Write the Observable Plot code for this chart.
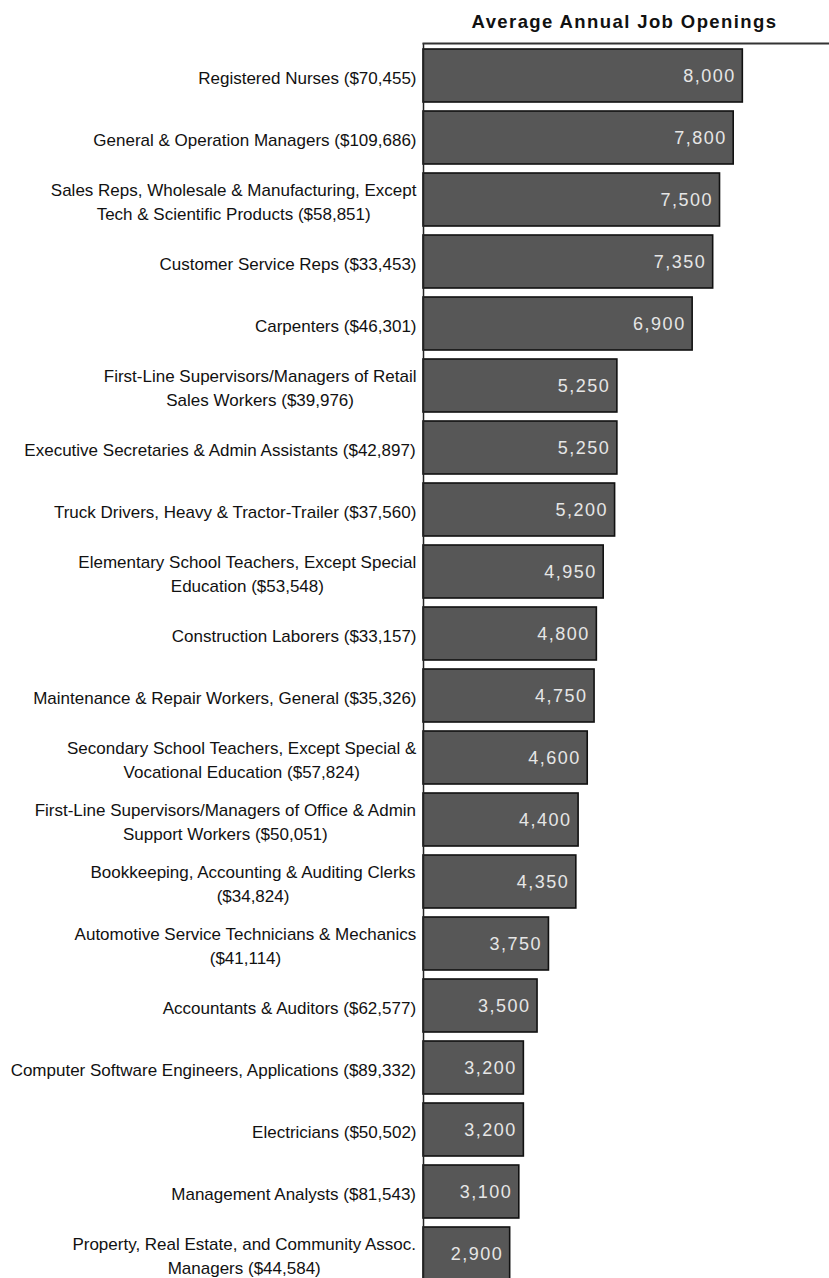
<!DOCTYPE html>
<html><head><meta charset="utf-8">
<script src="https://cdn.jsdelivr.net/npm/d3@7"></script>
<script src="https://cdn.jsdelivr.net/npm/@observablehq/plot@0.6"></script>
<style>
body{margin:0;background:#fff;overflow:hidden;width:829px;height:1278px}
#title{height:42px;box-sizing:border-box;margin-left:420px;width:409px;text-align:center;font:bold 18.5px 'Liberation Sans',Arial,sans-serif;letter-spacing:1.4px;padding-top:12px;color:#111;line-height:20px}
</style></head><body>
<div id="title">Average Annual Job Openings</div>
<div id="chart"></div>
<script>
const labels = [
  "Registered Nurses ($70,455)",
  "General & Operation Managers ($109,686)",
  "Sales Reps, Wholesale & Manufacturing, Except\nTech & Scientific Products ($58,851)",
  "Customer Service Reps ($33,453)",
  "Carpenters ($46,301)",
  "First-Line Supervisors/Managers of Retail\nSales Workers ($39,976)",
  "Executive Secretaries & Admin Assistants ($42,897)",
  "Truck Drivers, Heavy & Tractor-Trailer ($37,560)",
  "Elementary School Teachers, Except Special\nEducation ($53,548)",
  "Construction Laborers ($33,157)",
  "Maintenance & Repair Workers, General ($35,326)",
  "Secondary School Teachers, Except Special &\nVocational Education ($57,824)",
  "First-Line Supervisors/Managers of Office & Admin\nSupport Workers ($50,051)",
  "Bookkeeping, Accounting & Auditing Clerks\n($34,824)",
  "Automotive Service Technicians & Mechanics\n($41,114)",
  "Accountants & Auditors ($62,577)",
  "Computer Software Engineers, Applications ($89,332)",
  "Electricians ($50,502)",
  "Management Analysts ($81,543)",
  "Property, Real Estate, and Community Assoc.\nManagers ($44,584)"
];
const openings = [8000, 7800, 7500, 7350, 6900, 5250, 5250, 5200, 4950, 4800, 4750, 4600, 4400, 4350, 3750, 3500, 3200, 3200, 3100, 2900];
const axisMin = 1000, axisMax = 9900;

const data = labels.map((label, i) => ({label, value: openings[i]}));
const fam = "'Liberation Sans', Arial, sans-serif";
const labelSize = 17;
const ctx = document.createElement("canvas").getContext("2d");
ctx.font = `${labelSize}px 'Liberation Sans'`;
const labelGap = 7;
const labelMarks = data.map(d => {
  const w = d3.max(d.label.split("\n"), s => ctx.measureText(s).width);
  return Plot.text([d], {y: "label", text: "label", frameAnchor: "left", textAnchor: "middle",
    dx: -(labelGap + w / 2), fontSize: labelSize, lineHeight: 1.45, fill: "#111"});
});

const chart = Plot.plot({
  width: 829, height: 1236,
  marginLeft: 423, marginRight: 0, marginTop: 1, marginBottom: 0,
  style: {fontFamily: fam, background: "#fff", overflow: "visible"},
  x: {domain: [axisMin, axisMax], axis: null},
  y: {domain: labels, range: [-4, 1249], padding: 0.148, axis: null},
  marks: [
    Plot.barX(data, {y: "label", x1: axisMin, x2: "value", fill: "#575757", stroke: "#111", strokeWidth: 1.6}),
    Plot.ruleX([axisMin], {stroke: "#222", strokeWidth: 1.5}),
    Plot.frame({anchor: "top", stroke: "#333", strokeWidth: 2}),
    Plot.text(data, {y: "label", x: "value", text: d => d3.format(",")(d.value), textAnchor: "end",
      dx: -7, fill: "#e6e6e6", fontSize: 18, ariaDescription: "values"}),
    ...labelMarks
  ]
});
document.getElementById("chart").appendChild(chart);
d3.select(chart).selectAll("g[aria-description=values] text").style("letter-spacing", "1.5px");
</script>
</body></html>
